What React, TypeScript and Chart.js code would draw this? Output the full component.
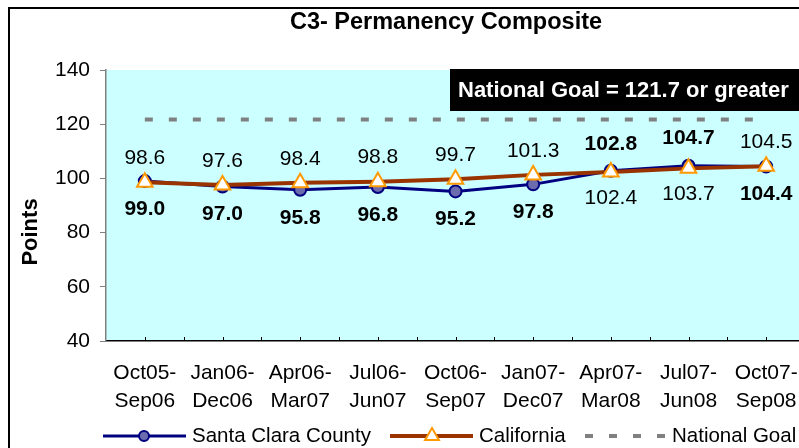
import React, { useEffect, useRef } from 'react';
import { Chart, registerables } from 'chart.js';

Chart.register(...registerables);

const categories: string[][] = [
  ['Oct05-', 'Sep06'],
  ['Jan06-', 'Dec06'],
  ['Apr06-', 'Mar07'],
  ['Jul06-', 'Jun07'],
  ['Oct06-', 'Sep07'],
  ['Jan07-', 'Dec07'],
  ['Apr07-', 'Mar08'],
  ['Jul07-', 'Jun08'],
  ['Oct07-', 'Sep08'],
];
const santaClara = [99.0, 97.0, 95.8, 96.8, 95.2, 97.8, 102.8, 104.7, 104.4];
const california = [98.6, 97.6, 98.4, 98.8, 99.7, 101.3, 102.4, 103.7, 104.5];
const nationalGoal = 121.7;
const yMin = 40;
const yMax = 140;
const yStep = 20;
const chartTitle = 'C3- Permanency Composite';
const yTitle = 'Points';
const goalBoxText = 'National Goal = 121.7 or greater';
const seriesNames = ['Santa Clara County', 'California', 'National Goal'];
// label placement (above / below point)
const scPlacement = ['below', 'below', 'below', 'below', 'below', 'below', 'above', 'above', 'below'];
const caPlacement = ['above', 'above', 'above', 'above', 'above', 'above', 'below', 'below', 'above'];

const FONT = 'Arial, "Liberation Sans", sans-serif';
const NAVY = '#000080';
const BROWN = '#993300';
const ORANGE = '#FF9900';
const MARKER = '#6B6BAE';
const GOAL = '#808080';

const decorPlugin = {
  id: 'decor',
  beforeDraw(chart: any) {
    const { ctx, chartArea } = chart;
    ctx.save();
    ctx.fillStyle = '#FFFFFF';
    ctx.fillRect(0, 0, chart.width, chart.height);
    ctx.fillStyle = '#CCFFFF';
    ctx.fillRect(chartArea.left, chartArea.top, chartArea.right - chartArea.left, chartArea.bottom - chartArea.top);
    ctx.restore();
  },
  afterDatasetsDraw(chart: any) {
    const { ctx } = chart;
    const scMeta = chart.getDatasetMeta(0);
    const caMeta = chart.getDatasetMeta(1);
    ctx.save();
    ctx.textAlign = 'center';
    ctx.textBaseline = 'middle';
    ctx.fillStyle = '#000000';
    ctx.font = `bold 21px ${FONT}`;
    scMeta.data.forEach((pt: any, i: number) => {
      const dy = scPlacement[i] === 'above' ? -27 : 28;
      ctx.fillText(santaClara[i].toFixed(1), pt.x, pt.y + dy);
    });
    ctx.font = `21px ${FONT}`;
    caMeta.data.forEach((pt: any, i: number) => {
      const dy = caPlacement[i] === 'above' ? -24 : 26;
      ctx.fillText(california[i].toFixed(1), pt.x, pt.y + dy);
    });
    ctx.restore();
  },
  afterDraw(chart: any) {
    const { ctx, chartArea } = chart;
    const xs = chart.scales.x;
    ctx.save();
    // x tick marks (upward, at centers and boundaries)
    ctx.strokeStyle = '#000000';
    ctx.lineWidth = 1;
    const n = categories.length;
    const step = xs.getPixelForValue(1) - xs.getPixelForValue(0);
    for (let i = 0; i < n; i++) {
      const c = xs.getPixelForValue(i);
      [c, c + step / 2].forEach((x) => {
        ctx.beginPath();
        ctx.moveTo(Math.round(x) + 0.5, chartArea.bottom);
        ctx.lineTo(Math.round(x) + 0.5, chartArea.bottom - 4);
        ctx.stroke();
      });
    }
    // frame
    ctx.strokeStyle = '#000000';
    ctx.lineWidth = 2;
    ctx.strokeRect(9, 8, chart.width + 50, chart.height + 50);
    // title
    ctx.fillStyle = '#000000';
    ctx.textAlign = 'center';
    ctx.textBaseline = 'middle';
    ctx.font = `bold 23.5px ${FONT}`;
    ctx.fillText(chartTitle, 446, 23);
    // y title
    ctx.save();
    ctx.translate(31, 232);
    ctx.rotate(-Math.PI / 2);
    ctx.font = `bold 22px ${FONT}`;
    ctx.fillText(yTitle, 0, 0);
    ctx.restore();
    // goal box
    ctx.fillStyle = '#000000';
    ctx.fillRect(450, 69, 400, 42);
    ctx.fillStyle = '#FFFFFF';
    ctx.textAlign = 'left';
    ctx.font = `bold 22px ${FONT}`;
    ctx.fillText(goalBoxText, 458, 91);
    // legend
    const ly = 436;
    ctx.lineCap = 'butt';
    ctx.strokeStyle = NAVY;
    ctx.lineWidth = 3;
    ctx.beginPath();
    ctx.moveTo(103, ly);
    ctx.lineTo(186, ly);
    ctx.stroke();
    ctx.beginPath();
    ctx.arc(144, ly, 5, 0, Math.PI * 2);
    ctx.fillStyle = MARKER;
    ctx.fill();
    ctx.lineWidth = 2;
    ctx.stroke();
    ctx.strokeStyle = BROWN;
    ctx.lineWidth = 4;
    ctx.beginPath();
    ctx.moveTo(390, ly);
    ctx.lineTo(473, ly);
    ctx.stroke();
    ctx.beginPath();
    const r = 8;
    ctx.moveTo(432, ly - r);
    ctx.lineTo(432 + r * 0.866, ly + r * 0.5);
    ctx.lineTo(432 - r * 0.866, ly + r * 0.5);
    ctx.closePath();
    ctx.fillStyle = '#FFFFFF';
    ctx.fill();
    ctx.strokeStyle = ORANGE;
    ctx.lineWidth = 2;
    ctx.stroke();
    ctx.strokeStyle = GOAL;
    ctx.lineWidth = 4;
    ctx.setLineDash([8, 16]);
    ctx.beginPath();
    ctx.moveTo(585, ly);
    ctx.lineTo(666, ly);
    ctx.stroke();
    ctx.setLineDash([]);
    ctx.fillStyle = '#000000';
    ctx.font = `20.5px ${FONT}`;
    ctx.textAlign = 'left';
    ctx.fillText(seriesNames[0], 192, ly);
    ctx.fillText(seriesNames[1], 479, ly);
    ctx.fillText(seriesNames[2], 672, ly);
    ctx.restore();
  },
};

export default function App() {
  const ref = useRef<HTMLCanvasElement>(null);
  useEffect(() => {
    if (!ref.current) return;
    const chart = new Chart(ref.current, {
      type: 'line',
      data: {
        labels: categories as any,
        datasets: [
          {
            label: seriesNames[0],
            data: santaClara,
            borderColor: NAVY,
            borderWidth: 3,
            backgroundColor: MARKER,
            pointBackgroundColor: MARKER,
            pointBorderColor: NAVY,
            pointBorderWidth: 2,
            pointRadius: 6,
            pointStyle: 'circle',
            tension: 0,
            order: 2,
          },
          {
            label: seriesNames[1],
            data: california,
            borderColor: BROWN,
            borderWidth: 4,
            backgroundColor: '#FFFFFF',
            pointBackgroundColor: '#FFFFFF',
            pointBorderColor: ORANGE,
            pointBorderWidth: 2,
            pointRadius: 9,
            pointStyle: 'triangle',
            tension: 0,
            order: 1,
          },
          {
            label: seriesNames[2],
            data: categories.map(() => nationalGoal),
            borderColor: GOAL,
            borderWidth: 4,
            borderDash: [8, 16],
            pointRadius: 0,
            tension: 0,
            order: 3,
          },
        ],
      },
      options: {
        responsive: false,
        animation: false,
        events: [],
        layout: { padding: { left: 0, top: 70, right: 75, bottom: 0 } },
        plugins: {
          legend: { display: false },
          title: { display: false },
          tooltip: { enabled: false },
        },
        scales: {
          x: {
            type: 'category',
            offset: true,
            grid: { display: false, drawTicks: false },
            border: { display: true, color: '#000000', width: 1.5 },
            ticks: {
              color: '#000000',
              padding: 18,
              maxRotation: 0,
              autoSkip: false,
              font: { family: FONT, size: 21, lineHeight: 1.33 },
            },
            afterFit: (s: any) => {
              s.height = 107;
            },
          },
          y: {
            min: yMin,
            max: yMax,
            grid: { display: true, drawOnChartArea: false, drawTicks: true, tickLength: 6, color: '#808080' },
            border: { display: true, color: '#808080', width: 1.5 },
            ticks: {
              stepSize: yStep,
              color: '#000000',
              padding: 10,
              font: { family: FONT, size: 21 },
            },
            afterFit: (s: any) => {
              s.width = 106;
            },
          },
        },
      },
      plugins: [decorPlugin],
    });
    return () => chart.destroy();
  }, []);
  return (
    <div style={{ position: 'absolute', left: 0, top: 0, width: 799, height: 448, overflow: 'hidden', background: '#fff' }}>
      <canvas ref={ref} width={880} height={448} style={{ display: 'block', width: 880, height: 448 }} />
    </div>
  );
}
